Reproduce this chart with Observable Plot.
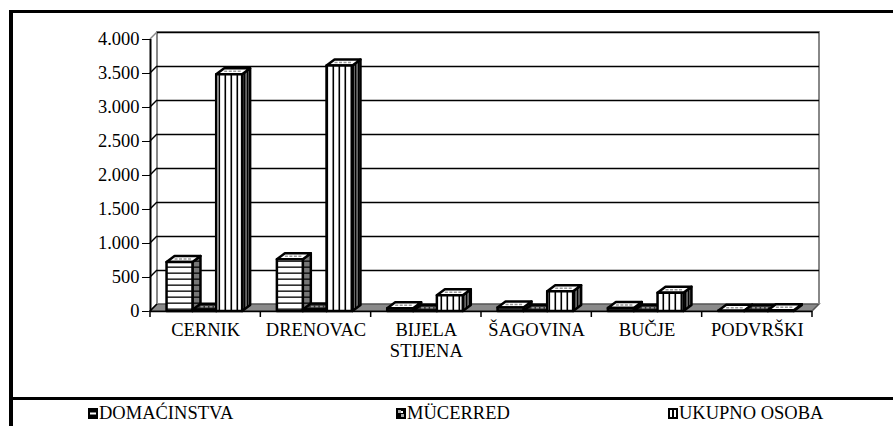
<!DOCTYPE html>
<html>
<head>
<meta charset="utf-8">
<script src="https://cdn.jsdelivr.net/npm/d3@7"></script>
<script src="https://cdn.jsdelivr.net/npm/@observablehq/plot@0.6"></script>
<style>
  html, body { margin: 0; padding: 0; background: #fff; }
  #wrap { position: relative; width: 893px; height: 426px; overflow: hidden; }
  #chart { position: absolute; left: 0; top: 0; }
  #frame { position: absolute; left: 9px; top: 10px; width: 1000px; height: 1000px; border-left: 4px solid #000; border-top: 3px solid #000; box-sizing: border-box; }
  #sep { position: absolute; left: 9px; top: 397px; width: 900px; height: 3px; background: #000; }
  #legend { position: absolute; left: 0; top: 400px; width: 893px; height: 26px; font-size: 18.5px; color: #000; }
  .item { position: absolute; top: 3px; white-space: nowrap; line-height: 20px; display: flex; align-items: center; }
  .item svg { margin-right: 1px; }
</style>
</head>
<body>
<div id="wrap">
  <div id="chart"></div>
  <div id="frame"></div>
  <div id="sep"></div>
  <div id="legend"></div>
</div>
<script>
// ---- data ----
const categories = ["CERNIK", "DRENOVAC", "BIJELA\nSTIJENA", "ŠAGOVINA", "BUČJE", "PODVRŠKI"];
const series = ["DOMAĆINSTVA", "MÜCERRED", "UKUPNO OSOBA"];
const domacinstva = [720, 760, 40, 50, 45, 5];
const mucerred = [20, 22, 5, 5, 5, 3];
const ukupnoOsoba = [3480, 3610, 230, 290, 270, 10];
const yTicks = [0, 500, 1000, 1500, 2000, 2500, 3000, 3500, 4000];

// ---- font detection (pick an installed serif face) ----
function pickFont(cands) {
  const ctx = document.createElement("canvas").getContext("2d");
  const s = "CERNIK DOMAĆINSTVA 4.000 mwil";
  const base = {};
  for (const g of ["monospace", "sans-serif"]) { ctx.font = `40px ${g}`; base[g] = ctx.measureText(s).width; }
  for (const c of cands) {
    let found = false;
    for (const g of ["monospace", "sans-serif"]) {
      ctx.font = `40px "${c}", ${g}`;
      if (Math.abs(ctx.measureText(s).width - base[g]) > 0.5) found = true;
    }
    if (found) return `"${c}"`;
  }
  return "serif";
}
const FONT = pickFont(["Liberation Serif", "Times New Roman", "Times", "Tinos", "Nimbus Roman", "FreeSerif", "DejaVu Serif", "Noto Serif"]) + ", serif";
document.getElementById("wrap").style.fontFamily = FONT;

// ---- layout constants ----
const seriesValues = [domacinstva, mucerred, ukupnoOsoba];
const slot = [[0.15, 0.385], [0.385, 0.6], [0.6, 0.835]];
const WDX = 7, WDY = 7;   // wall depth in px
const BDX = 8, BDY = 6;   // bar depth in px
const frontFill = ["url(#hstripe)", "url(#check)", "url(#vstripe)"];
const sideFill = ["url(#hside)", "#444", "url(#vside)"];

const bars = [];
series.forEach((s, k) => categories.forEach((c, i) => bars.push({cat: c, i, k, series: s, value: seriesValues[k][i]})));

const fmt = d => d3.format(",")(d).replace(/,/g, ".");

function defs() {
  const g = d3.create("svg:g");
  const df = g.append("defs");
  let p = df.append("pattern").attr("id", "hstripe").attr("patternUnits", "userSpaceOnUse").attr("width", 6).attr("height", 6);
  p.append("rect").attr("width", 6).attr("height", 6).attr("fill", "#fff");
  p.append("rect").attr("y", 2.5).attr("width", 6).attr("height", 1.3).attr("fill", "#000");
  p = df.append("pattern").attr("id", "vstripe").attr("patternUnits", "userSpaceOnUse").attr("width", 6).attr("height", 6);
  p.append("rect").attr("width", 6).attr("height", 6).attr("fill", "#fff");
  p.append("rect").attr("x", 2.5).attr("width", 1.6).attr("height", 6).attr("fill", "#000");
  p = df.append("pattern").attr("id", "hside").attr("patternUnits", "userSpaceOnUse").attr("width", 6).attr("height", 6);
  p.append("rect").attr("width", 6).attr("height", 6).attr("fill", "#777");
  p.append("rect").attr("y", 2.5).attr("width", 6).attr("height", 1.3).attr("fill", "#000");
  p = df.append("pattern").attr("id", "vside").attr("patternUnits", "userSpaceOnUse").attr("width", 3).attr("height", 6);
  p.append("rect").attr("width", 3).attr("height", 6).attr("fill", "#666");
  p.append("rect").attr("x", 1).attr("width", 1.2).attr("height", 6).attr("fill", "#000");
  p = df.append("pattern").attr("id", "check").attr("patternUnits", "userSpaceOnUse").attr("width", 4).attr("height", 4);
  p.append("rect").attr("width", 4).attr("height", 4).attr("fill", "#111");
  p.append("rect").attr("width", 2).attr("height", 2).attr("fill", "#999");
  return g.node();
}

function walls(index, scales) {
  const x = scales.x, y = scales.y;
  const g = d3.create("svg:g");
  const xa = x(0), xb = x(categories.length), y0 = y(0), yt = y(4000);
  g.append("path").attr("d", `M${xa},${y0}L${xb},${y0}L${xb + WDX},${y0 - WDY}L${xa + WDX},${y0 - WDY}Z`)
    .attr("fill", "#8a8a8a").attr("stroke", "#555").attr("stroke-width", 1.5);
  g.append("path").attr("d", `M${xa + WDX},${y0 - WDY}L${xa + WDX},${yt - WDY}L${xb + WDX},${yt - WDY}L${xb + WDX},${y0 - WDY}`)
    .attr("fill", "none").attr("stroke", "#888").attr("stroke-width", 2);
  for (const t of yTicks) {
    g.append("line").attr("x1", xa).attr("y1", y(t)).attr("x2", xa + WDX).attr("y2", y(t) - WDY)
      .attr("stroke", t === 4000 ? "#888" : "#000").attr("stroke-width", 1.5);
  }
  for (let i = 0; i <= categories.length; i++) {
    g.append("line").attr("x1", x(i)).attr("x2", x(i)).attr("y1", y0).attr("y2", y0 + 6)
      .attr("stroke", "#000").attr("stroke-width", 1.5);
  }
  return g.node();
}

function faces(index, scales) {
  const x = scales.x, y = scales.y;
  const g = d3.create("svg:g");
  const order = bars.slice().sort((a, b) => (a.i - b.i) || (a.k - b.k));
  for (const d of order) {
    const x1 = x(d.i + slot[d.k][0]), x2 = x(d.i + slot[d.k][1]);
    const y0 = y(0), y1 = y(d.value);
    g.append("path").attr("d", `M${x2},${y0}L${x2 + BDX},${y0 - BDY}L${x2 + BDX},${y1 - BDY}L${x2},${y1}Z`)
      .attr("fill", sideFill[d.k]).attr("stroke", "#000").attr("stroke-width", 2.5).attr("stroke-linejoin", "round");
    g.append("path").attr("d", `M${x1},${y1}L${x1 + BDX},${y1 - BDY}L${x2 + BDX},${y1 - BDY}L${x2},${y1}Z`)
      .attr("fill", d.k === 1 ? "#333" : "#fff").attr("stroke", "#000").attr("stroke-width", 2.5).attr("stroke-linejoin", "round");
    g.append("line").attr("x1", x1 + BDX / 2 + 4).attr("x2", x2 + BDX / 2 - 4)
      .attr("y1", y1 - BDY / 2).attr("y2", y1 - BDY / 2)
      .attr("stroke", "#999").attr("stroke-width", 1.5).attr("stroke-dasharray", "3,1.5");
  }
  return g.node();
}

const marks = [
  defs,
  walls,
  Plot.ruleY(yTicks.filter(t => t > 0), {x1: 0, x2: categories.length, dx: WDX, dy: -WDY, stroke: "#000", strokeWidth: 1.3}),
  faces
];
series.forEach((s, k) => {
  marks.push(Plot.rectY(bars.filter(d => d.k === k), {
    x1: d => d.i + slot[d.k][0], x2: d => d.i + slot[d.k][1],
    y1: 0, y2: "value",
    fill: frontFill[k], stroke: "#000", strokeWidth: 2.5, strokeLinejoin: "round"
  }));
});
marks.push(Plot.ruleY([0], {x1: 0, x2: categories.length, stroke: "#000", strokeWidth: 1.5}));
marks.push(Plot.ruleX([0], {y1: 0, y2: 4000, stroke: "#000", strokeWidth: 2}));
marks.push(Plot.text(categories, {
  x: (d, i) => i + 0.5, y: () => 0, text: d => d, dy: 10, lineAnchor: "top",
  fontSize: 18.5, lineHeight: 1.13, fill: "#000", fontFamily: FONT
}));

const plot = Plot.plot({
  width: 893, height: 398,
  marginLeft: 150, marginRight: 81, marginTop: 39, marginBottom: 87,
  style: {fontFamily: FONT, fontSize: "18.5px", background: "transparent", color: "#000", overflow: "visible"},
  x: {domain: [0, categories.length], axis: null},
  y: {domain: [0, 4000], ticks: yTicks, tickFormat: fmt, tickSize: 8, tickPadding: 3, label: null},
  marks
});
plot.querySelectorAll("text").forEach(t => t.style.fontFamily = FONT);
document.getElementById("chart").appendChild(plot);

// ---- legend ----
const icons = [
  `<svg width="10" height="11"><rect width="10" height="11" fill="#000"/><rect x="2" y="4.5" width="6" height="2" fill="#fff"/></svg>`,
  `<svg width="10" height="11"><rect width="10" height="11" fill="#000"/><rect x="2" y="2" width="3" height="3" fill="#aaa"/><rect x="5" y="6" width="3" height="3" fill="#aaa"/><rect x="5" y="3" width="2" height="2" fill="#fff"/></svg>`,
  `<svg width="10" height="11"><rect width="10" height="11" fill="#000"/><rect x="2" y="2" width="2" height="7" fill="#fff"/><rect x="6" y="2" width="2" height="7" fill="#fff"/></svg>`
];
const legendX = [88, 396, 668];
const legend = document.getElementById("legend");
series.forEach((s, k) => {
  const el = document.createElement("div");
  el.className = "item";
  el.style.left = legendX[k] + "px";
  el.innerHTML = icons[k] + `<span>${s}</span>`;
  legend.appendChild(el);
});
</script>
</body>
</html>
